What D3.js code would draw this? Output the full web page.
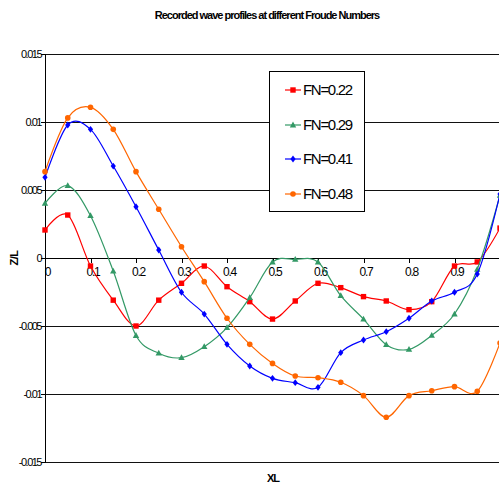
<!DOCTYPE html>
<html><head><meta charset="utf-8">
<script src="https://cdn.jsdelivr.net/npm/d3@7"></script>
<style>
html,body{margin:0;padding:0;background:#fff;}
svg text{font-family:"Liberation Sans",Arial,sans-serif;}
</style></head>
<body><svg id="c" width="499" height="487"></svg>
<script>
const xs = [0,0.05,0.1,0.15,0.2,0.25,0.3,0.35,0.4,0.45,0.5,0.55,0.6,0.65,0.7,0.75,0.8,0.85,0.9,0.95,1.0];
const fn022 = [0.00206,0.00316,-0.00059,-0.0031,-0.005,-0.0031,-0.00186,-0.00059,-0.00211,-0.00321,-0.00449,-0.00316,-0.00186,-0.00218,-0.00284,-0.00316,-0.0038,-0.00321,-0.00059,-0.00029,0.0022];
const fn029 = [0.00402,0.00532,0.00311,-0.00096,-0.0057,-0.007,-0.00733,-0.00652,-0.00512,-0.00292,-0.0003,-0.0001,-0.0003,-0.00277,-0.00449,-0.00637,-0.00672,-0.00569,-0.00412,-0.00083,0.0046];
const fn041 = [0.00593,0.00978,0.00946,0.00676,0.00377,0.00059,-0.00252,-0.00412,-0.00635,-0.00794,-0.00885,-0.00917,-0.00951,-0.00696,-0.00603,-0.00542,-0.00443,-0.00316,-0.00252,-0.00118,0.0047];
const fn048 = [0.00635,0.0103,0.01108,0.00946,0.00635,0.00358,0.00083,-0.00174,-0.00443,-0.00635,-0.00775,-0.00868,-0.0088,-0.00914,-0.01012,-0.01171,-0.01012,-0.00976,-0.00946,-0.0098,-0.00625];
const seriesNames = ["FN=0.22","FN=0.29","FN=0.41","FN=0.48"];
const seriesColors = ["#FF0000","#339966","#0000FF","#FF6600"];
const seriesMarkers = ["square","triangle","diamond","circle"];
const xTicks = [0,0.1,0.2,0.3,0.4,0.5,0.6,0.7,0.8,0.9];
const xTickLabels = ["0","0.1","0.2","0.3","0.4","0.5","0.6","0.7","0.8","0.9"];
const yTicks = [0.015,0.01,0.005,0,-0.005,-0.01,-0.015];
const yTickLabels = ["0.015","0.01","0.005","0","-0.005","-0.01","-0.015"];
const title = "Recorded wave profiles at different Froude Numbers";
const xTitle = "XL";
const yTitle = "Z/L";

const svg = d3.select("#c");
const x = d3.scaleLinear().domain([0,1]).range([45,500]);
const y = d3.scaleLinear().domain([-0.015,0.015]).range([462,54]);

// gridlines
svg.append("g").selectAll("line").data(yTicks.filter(d=>d!==0)).join("line")
  .attr("x1",45).attr("x2",499).attr("y1",d=>y(d)).attr("y2",d=>y(d))
  .attr("stroke","#111").attr("stroke-width",1).attr("shape-rendering","crispEdges");

// y axis
const yAxis = d3.axisLeft(y).tickValues(yTicks).tickSize(4).tickFormat((d,i)=>yTickLabels[i]);
const gy = svg.append("g").attr("transform","translate(45,0)").call(yAxis);
gy.select(".domain").attr("stroke","#000").attr("shape-rendering","crispEdges");
gy.selectAll(".tick line").attr("stroke","#000").attr("shape-rendering","crispEdges");
gy.selectAll("text").attr("font-size",11).attr("letter-spacing","-1.5px").attr("fill","#000").attr("x",-4);

// x axis at zero
const xAxis = d3.axisBottom(x).tickValues(xTicks).tickSize(5).tickSizeOuter(0).tickFormat((d,i)=>xTickLabels[i]);
const gx = svg.append("g").attr("transform",`translate(0,${y(0)})`).call(xAxis);
gx.select(".domain").attr("d",`M45,0H499`).attr("stroke","#000").attr("shape-rendering","crispEdges");
gx.selectAll(".tick line").attr("stroke","#000").attr("shape-rendering","crispEdges");
gx.selectAll("text").attr("font-size",12).attr("letter-spacing","-1.3px").attr("fill","#000").attr("y",9).attr("dx","2px");

// series
const allData = [fn022,fn029,fn041,fn048];
const line = d3.line().x((d,i)=>x(xs[i])).y(d=>y(d)).curve(d3.curveCatmullRom.alpha(0));
function marker(sel, type, color){
  if(type==="square") sel.append("rect").attr("x",-2.7).attr("y",-2.7).attr("width",5.4).attr("height",5.4).attr("fill",color);
  else if(type==="triangle") sel.append("path").attr("d","M0,-3.4L3.2,2.4L-3.2,2.4Z").attr("fill",color);
  else if(type==="diamond") sel.append("path").attr("d","M0,-3.4L2.6,0L0,3.4L-2.6,0Z").attr("fill",color);
  else sel.append("circle").attr("r",2.8).attr("fill",color);
}
allData.forEach((vals,si)=>{
  const g = svg.append("g");
  g.append("path").attr("d",line(vals)).attr("fill","none").attr("stroke",seriesColors[si]).attr("stroke-width",1.2);
  vals.forEach((v,i)=>{
    const m = g.append("g").attr("transform",`translate(${x(xs[i])},${y(v)})`);
    marker(m, seriesMarkers[si], seriesColors[si]);
  });
});

// legend
const lg = svg.append("g");
lg.append("rect").attr("x",269.5).attr("y",71.5).attr("width",95).attr("height",140).attr("fill","#fff").attr("stroke","#000");
const legY = [90,125,159,194];
seriesNames.forEach((n,i)=>{
  lg.append("line").attr("x1",285).attr("x2",301).attr("y1",legY[i]).attr("y2",legY[i]).attr("stroke",seriesColors[i]).attr("stroke-width",1.2);
  const m = lg.append("g").attr("transform",`translate(293,${legY[i]})`);
  marker(m, seriesMarkers[i], seriesColors[i]);
  lg.append("text").attr("x",303).attr("y",legY[i]).attr("dy","0.36em").attr("font-size",15).attr("letter-spacing","-1.3px").text(n);
});

// titles
svg.append("text").attr("x",267).attr("y",19).attr("text-anchor","middle").attr("font-size",11).attr("font-weight","bold").attr("letter-spacing","-1px").text(title);
svg.append("text").attr("x",273).attr("y",482).attr("text-anchor","middle").attr("font-size",11).attr("font-weight","bold").attr("letter-spacing","-1px").text(xTitle);
svg.append("text").attr("transform","translate(18,258) rotate(-90)").attr("text-anchor","middle").attr("font-size",11).attr("font-weight","bold").attr("letter-spacing","-0.5px").text(yTitle);
</script></body></html>
